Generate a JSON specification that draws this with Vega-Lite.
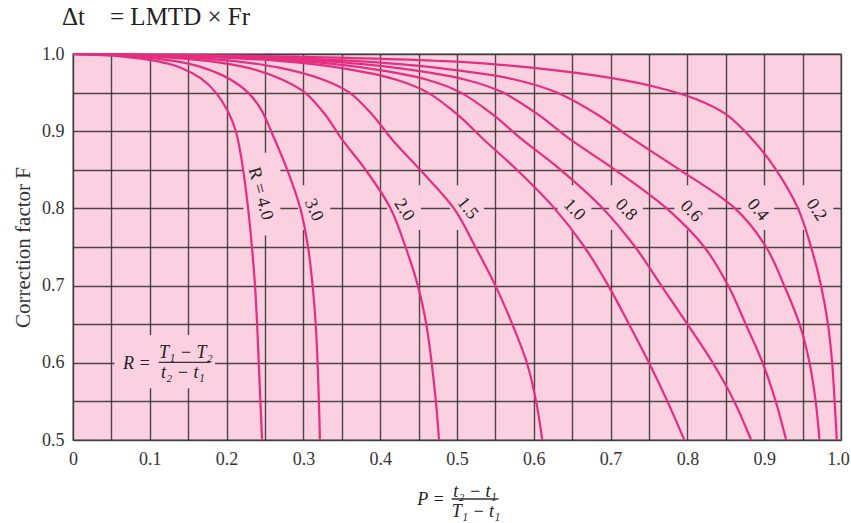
{
  "$schema": "https://vega.github.io/schema/vega-lite/v6.json",
  "width": 768,
  "height": 386,
  "autosize": {"type": "none"},
  "padding": {"left": 73, "top": 54, "right": 10, "bottom": 83},
  "background": "white",
  "title": {"text": "Δt\u00a0\u00a0\u00a0 = LMTD × Fr", "anchor": "start", "frame": "group", "font": "Liberation Serif", "fontSize": 25, "fontWeight": "normal", "color": "#222", "baseline": "bottom", "offset": 14, "dx": -11, "dy": 24},
  "config": {"view": {"fill": "#fbd0e0", "stroke": "#8a8a8a", "strokeWidth": 1.5}, "font": "Liberation Serif"},
  "datasets": {
    "curves": [
      {"R":"4.0","P":0,"F":1},{"R":"4.0","P":0.065,"F":0.9967},{"R":"4.0","P":0.108,"F":0.991},{"R":"4.0","P":0.141,"F":0.982},{"R":"4.0","P":0.167,"F":0.968},{"R":"4.0","P":0.186,"F":0.95},{"R":"4.0","P":0.201,"F":0.927},{"R":"4.0","P":0.212,"F":0.9},{"R":"4.0","P":0.22,"F":0.86},{"R":"4.0","P":0.228,"F":0.8},{"R":"4.0","P":0.233,"F":0.75},{"R":"4.0","P":0.237,"F":0.7},{"R":"4.0","P":0.2397,"F":0.65},{"R":"4.0","P":0.2419,"F":0.6},{"R":"4.0","P":0.244,"F":0.55},{"R":"4.0","P":0.2462,"F":0.5},
      {"R":"3.0","P":0,"F":1},{"R":"3.0","P":0.079,"F":0.9967},{"R":"3.0","P":0.131,"F":0.991},{"R":"3.0","P":0.17,"F":0.982},{"R":"3.0","P":0.205,"F":0.967},{"R":"3.0","P":0.228,"F":0.95},{"R":"3.0","P":0.245,"F":0.928},{"R":"3.0","P":0.258,"F":0.9},{"R":"3.0","P":0.279,"F":0.85},{"R":"3.0","P":0.296,"F":0.8},{"R":"3.0","P":0.306,"F":0.75},{"R":"3.0","P":0.312,"F":0.7},{"R":"3.0","P":0.316,"F":0.65},{"R":"3.0","P":0.3185,"F":0.6},{"R":"3.0","P":0.3202,"F":0.55},{"R":"3.0","P":0.3215,"F":0.5},
      {"R":"2.0","P":0,"F":1},{"R":"2.0","P":0.105,"F":0.9967},{"R":"2.0","P":0.175,"F":0.991},{"R":"2.0","P":0.228,"F":0.982},{"R":"2.0","P":0.272,"F":0.967},{"R":"2.0","P":0.302,"F":0.95},{"R":"2.0","P":0.328,"F":0.922},{"R":"2.0","P":0.3505,"F":0.889},{"R":"2.0","P":0.381,"F":0.85},{"R":"2.0","P":0.4135,"F":0.8},{"R":"2.0","P":0.433,"F":0.75},{"R":"2.0","P":0.449,"F":0.7},{"R":"2.0","P":0.46,"F":0.65},{"R":"2.0","P":0.467,"F":0.6},{"R":"2.0","P":0.4725,"F":0.55},{"R":"2.0","P":0.4766,"F":0.5},
      {"R":"1.5","P":0,"F":1},{"R":"1.5","P":0.125,"F":0.9967},{"R":"1.5","P":0.208,"F":0.991},{"R":"1.5","P":0.27,"F":0.982},{"R":"1.5","P":0.325,"F":0.967},{"R":"1.5","P":0.36,"F":0.95},{"R":"1.5","P":0.39,"F":0.921},{"R":"1.5","P":0.4157,"F":0.889},{"R":"1.5","P":0.452,"F":0.85},{"R":"1.5","P":0.496,"F":0.8},{"R":"1.5","P":0.524,"F":0.75},{"R":"1.5","P":0.55,"F":0.7},{"R":"1.5","P":0.572,"F":0.65},{"R":"1.5","P":0.591,"F":0.6},{"R":"1.5","P":0.603,"F":0.55},{"R":"1.5","P":0.611,"F":0.5},
      {"R":"1.0","P":0,"F":1},{"R":"1.0","P":0.16,"F":0.9967},{"R":"1.0","P":0.268,"F":0.991},{"R":"1.0","P":0.348,"F":0.982},{"R":"1.0","P":0.42,"F":0.967},{"R":"1.0","P":0.462,"F":0.95},{"R":"1.0","P":0.5,"F":0.922},{"R":"1.0","P":0.535,"F":0.889},{"R":"1.0","P":0.578,"F":0.85},{"R":"1.0","P":0.627,"F":0.8},{"R":"1.0","P":0.666,"F":0.75},{"R":"1.0","P":0.697,"F":0.7},{"R":"1.0","P":0.724,"F":0.65},{"R":"1.0","P":0.75,"F":0.6},{"R":"1.0","P":0.774,"F":0.55},{"R":"1.0","P":0.796,"F":0.5},
      {"R":"0.8","P":0,"F":1},{"R":"0.8","P":0.176,"F":0.9967},{"R":"0.8","P":0.293,"F":0.991},{"R":"0.8","P":0.38,"F":0.982},{"R":"0.8","P":0.46,"F":0.967},{"R":"0.8","P":0.505,"F":0.95},{"R":"0.8","P":0.546,"F":0.922},{"R":"0.8","P":0.585,"F":0.889},{"R":"0.8","P":0.635,"F":0.85},{"R":"0.8","P":0.69,"F":0.8},{"R":"0.8","P":0.732,"F":0.75},{"R":"0.8","P":0.766,"F":0.7},{"R":"0.8","P":0.8,"F":0.65},{"R":"0.8","P":0.833,"F":0.6},{"R":"0.8","P":0.861,"F":0.55},{"R":"0.8","P":0.883,"F":0.5},
      {"R":"0.6","P":0,"F":1},{"R":"0.6","P":0.194,"F":0.9967},{"R":"0.6","P":0.324,"F":0.991},{"R":"0.6","P":0.421,"F":0.982},{"R":"0.6","P":0.51,"F":0.967},{"R":"0.6","P":0.56,"F":0.95},{"R":"0.6","P":0.605,"F":0.922},{"R":"0.6","P":0.648,"F":0.889},{"R":"0.6","P":0.706,"F":0.85},{"R":"0.6","P":0.773,"F":0.8},{"R":"0.6","P":0.822,"F":0.75},{"R":"0.6","P":0.853,"F":0.7},{"R":"0.6","P":0.876,"F":0.65},{"R":"0.6","P":0.898,"F":0.6},{"R":"0.6","P":0.915,"F":0.55},{"R":"0.6","P":0.9286,"F":0.5},
      {"R":"0.4","P":0,"F":1},{"R":"0.4","P":0.219,"F":0.9967},{"R":"0.4","P":0.365,"F":0.991},{"R":"0.4","P":0.4745,"F":0.982},{"R":"0.4","P":0.575,"F":0.967},{"R":"0.4","P":0.63,"F":0.95},{"R":"0.4","P":0.682,"F":0.922},{"R":"0.4","P":0.73,"F":0.889},{"R":"0.4","P":0.79,"F":0.85},{"R":"0.4","P":0.862,"F":0.8},{"R":"0.4","P":0.9025,"F":0.75},{"R":"0.4","P":0.926,"F":0.7},{"R":"0.4","P":0.946,"F":0.65},{"R":"0.4","P":0.959,"F":0.6},{"R":"0.4","P":0.967,"F":0.55},{"R":"0.4","P":0.972,"F":0.5},
      {"R":"0.2","P":0,"F":1},{"R":"0.2","P":0.27,"F":0.997},{"R":"0.2","P":0.5,"F":0.99},{"R":"0.2","P":0.6,"F":0.982},{"R":"0.2","P":0.7,"F":0.969},{"R":"0.2","P":0.76,"F":0.957},{"R":"0.2","P":0.81,"F":0.942},{"R":"0.2","P":0.85,"F":0.922},{"R":"0.2","P":0.885,"F":0.889},{"R":"0.2","P":0.9155,"F":0.85},{"R":"0.2","P":0.944,"F":0.8},{"R":"0.2","P":0.961,"F":0.75},{"R":"0.2","P":0.974,"F":0.7},{"R":"0.2","P":0.983,"F":0.65},{"R":"0.2","P":0.9885,"F":0.6},{"R":"0.2","P":0.9917,"F":0.55},{"R":"0.2","P":0.9945,"F":0.5}
    ],
    "labels": [
      {"label":"R = 4.0","P":0.244,"F":0.819},
      {"label":"3.0","P":0.3135,"F":0.798},
      {"label":"2.0","P":0.431,"F":0.798},
      {"label":"1.5","P":0.5134,"F":0.8},
      {"label":"1.0","P":0.6526,"F":0.798},
      {"label":"0.8","P":0.72,"F":0.798},
      {"label":"0.6","P":0.8047,"F":0.796},
      {"label":"0.4","P":0.8915,"F":0.798},
      {"label":"0.2","P":0.9677,"F":0.798}
    ],
    "boxes": [
      {"P":0.222,"P2":0.27,"F":0.765,"F2":0.872},
      {"P":0.293,"P2":0.335,"F":0.772,"F2":0.83},
      {"P":0.409,"P2":0.453,"F":0.772,"F2":0.83},
      {"P":0.491,"P2":0.535,"F":0.772,"F2":0.83},
      {"P":0.631,"P2":0.675,"F":0.772,"F2":0.83},
      {"P":0.698,"P2":0.742,"F":0.772,"F2":0.83},
      {"P":0.783,"P2":0.827,"F":0.772,"F2":0.83},
      {"P":0.87,"P2":0.913,"F":0.772,"F2":0.83},
      {"P":0.946,"P2":0.99,"F":0.772,"F2":0.83},
      {"P":0.054,"P2":0.185,"F":0.567,"F2":0.636}
    ],
    "eq": [
      {"P":0.083,"F":0.599,"text":"R ="},
      {"P":0.147,"F":0.6123,"text":"T₁ − T₂"},
      {"P":0.143,"F":0.5864,"text":"t₂ − t₁"},
      {"P":0.466,"F":0.4223,"text":"P ="},
      {"P":0.5234,"F":0.433,"text":"t₂ − t₁"},
      {"P":0.5247,"F":0.4071,"text":"T₁ − t₁"}
    ],
    "bars": [
      {"P":0.1115,"P2":0.1788,"F":0.6006},
      {"P":0.493,"P2":0.554,"F":0.4236}
    ]
  },
  "encoding": {
    "x": {"field": "P", "type": "quantitative", "scale": {"domain": [0, 1], "nice": false, "zero": false},
      "axis": {"values": [0,0.05,0.1,0.15,0.2,0.25,0.3,0.35,0.4,0.45,0.5,0.55,0.6,0.65,0.7,0.75,0.8,0.85,0.9,0.95,1],
        "grid": true, "gridColor": "#2e2e2e", "gridWidth": 1.4, "gridOpacity": 0.85, "ticks": false, "domain": false,
        "labelExpr": "abs(datum.value*10 - round(datum.value*10)) < 0.001 ? (datum.value == 0 ? '0' : format(datum.value, '.1f')) : ''",
        "labelOffset": {"condition": {"test": "datum.value == 1", "value": -3}, "value": 0},
        "labelFont": "Liberation Serif", "labelFontSize": 18, "labelColor": "#333", "labelPadding": 10, "labelFlush": false, "labelOverlap": false, "title": null}},
    "y": {"field": "F", "type": "quantitative", "scale": {"domain": [0.5, 1], "nice": false, "zero": false},
      "axis": {"values": [0.5,0.55,0.6,0.65,0.7,0.75,0.8,0.85,0.9,0.95,1],
        "grid": true, "gridColor": "#2e2e2e", "gridWidth": 1.4, "gridOpacity": 0.85, "ticks": false, "domain": false,
        "labelExpr": "abs(datum.value*10 - round(datum.value*10)) < 0.001 ? format(datum.value, '.1f') : ''",
        "labelFont": "Liberation Serif", "labelFontSize": 18, "labelColor": "#333", "labelPadding": 9, "labelOverlap": false, "labelFlush": false,
        "title": "Correction factor F", "titleFont": "Liberation Serif", "titleFontSize": 21, "titleFontWeight": "normal", "titleColor": "#333", "titlePadding": 8}}
  },
  "layer": [
    {
      "data": {"name": "boxes"},
      "mark": {"type": "rect", "fill": "#fbd0e0", "stroke": null},
      "encoding": {"x2": {"field": "P2"}, "y2": {"field": "F2"}}
    },
    {
      "data": {"name": "curves"},
      "mark": {"type": "line", "color": "#e52e80", "strokeWidth": 2.2, "interpolate": "catmull-rom"},
      "encoding": {"detail": {"field": "R", "type": "nominal"}}
    },
    {
      "data": {"name": "bars"},
      "mark": {"type": "rule", "color": "#333", "strokeWidth": 1.3},
      "encoding": {"x2": {"field": "P2"}}
    },
    {
      "data": {"name": "eq"},
      "mark": {"type": "text", "font": "Liberation Serif", "fontStyle": "italic", "fontSize": 18, "color": "#222", "align": "center", "baseline": "middle"},
      "encoding": {"text": {"field": "text"}}
    },
    {"data": {"name": "labels"}, "transform": [{"filter": "datum.label == 'R = 4.0'"}], "mark": {"type": "text", "font": "Liberation Serif", "fontSize": 18, "color": "#222", "angle": 75, "align": "center", "baseline": "middle"}, "encoding": {"text": {"field": "label"}}},
    {"data": {"name": "labels"}, "transform": [{"filter": "datum.label == '3.0'"}], "mark": {"type": "text", "font": "Liberation Serif", "fontSize": 18, "color": "#222", "angle": 66, "align": "center", "baseline": "middle"}, "encoding": {"text": {"field": "label"}}},
    {"data": {"name": "labels"}, "transform": [{"filter": "datum.label == '2.0'"}], "mark": {"type": "text", "font": "Liberation Serif", "fontSize": 18, "color": "#222", "angle": 57, "align": "center", "baseline": "middle"}, "encoding": {"text": {"field": "label"}}},
    {"data": {"name": "labels"}, "transform": [{"filter": "datum.label == '1.5'"}], "mark": {"type": "text", "font": "Liberation Serif", "fontSize": 18, "color": "#222", "angle": 52, "align": "center", "baseline": "middle"}, "encoding": {"text": {"field": "label"}}},
    {"data": {"name": "labels"}, "transform": [{"filter": "datum.label == '1.0' || datum.label == '0.8' || datum.label == '0.6'"}], "mark": {"type": "text", "font": "Liberation Serif", "fontSize": 18, "color": "#222", "angle": 46, "align": "center", "baseline": "middle"}, "encoding": {"text": {"field": "label"}}},
    {"data": {"name": "labels"}, "transform": [{"filter": "datum.label == '0.4'"}], "mark": {"type": "text", "font": "Liberation Serif", "fontSize": 18, "color": "#222", "angle": 50, "align": "center", "baseline": "middle"}, "encoding": {"text": {"field": "label"}}},
    {"data": {"name": "labels"}, "transform": [{"filter": "datum.label == '0.2'"}], "mark": {"type": "text", "font": "Liberation Serif", "fontSize": 18, "color": "#222", "angle": 57, "align": "center", "baseline": "middle"}, "encoding": {"text": {"field": "label"}}}
  ]
}
